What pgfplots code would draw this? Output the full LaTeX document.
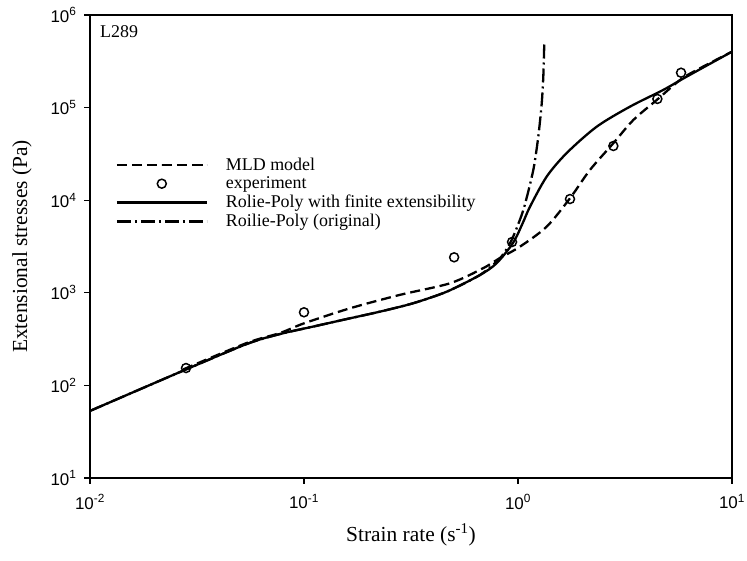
\documentclass[border=0pt]{standalone}
\usepackage{fontspec}
\setmainfont{Liberation Serif}
\setsansfont{Liberation Sans}
\usepackage{pgfplots}
\pgfplotsset{compat=1.18}
\usepackage{pgfplotstable}
\usetikzlibrary{calc}

% MLD model
\pgfplotstableread{
x y
0.0273 149
0.054 287
0.0773 368
0.1 468
0.164 680
0.281 950
0.481 1267
0.686 1840
0.824 2377
1.021 3148
1.361 5176
1.750 10500
2.168 21180
2.786 41100
3.459 73450
4.449 120800
5.715 198600
6.839 254700
10 401800
}\mld

% experiment
\pgfplotstableread{
x y
0.0281 154
0.1 616
0.503 2417
0.938 3537
1.75 10300
2.79 38500
4.48 124000
5.78 238000
}\expt

% Rolie-Poly with finite extensibility
\pgfplotstableread{
x y
0.01 53
0.02636 139.6
0.054 280
0.0773 359
0.110 431
0.1585 521
0.2265 626
0.3228 770
0.4645 1028
0.664 1556
0.794 2084
0.9476 3451
1.05 5600
1.138 8511
1.361 17950
1.690 32360
2.333 62230
3.334 102300
4.764 154900
6.138 215800
10 401800
}\rpfinite

% Rolie-Poly original
\pgfplotstableread{
x y
0.01 53
0.02636 139.6
0.054 280
0.0773 359
0.110 431
0.1585 521
0.2265 626
0.3228 770
0.4645 1028
0.664 1556
0.824 2360
0.934 3715
1.059 7830
1.179 21180
1.244 48500
1.291 111200
1.313 215800
1.327 494000
}\rporig

\begin{document}
\begin{tikzpicture}
  \begin{loglogaxis}[
      scale only axis,
      width=642bp, height=463bp,
      xmin=0.01, xmax=10, ymin=10, ymax=1e6,
      axis line style={line width=1.2bp},
      tick style={line width=1.2bp, black},
      tick align=outside, major tick length=6bp,
      xtick pos=bottom, ytick pos=left,
      xminorticks=false, yminorticks=false,
      xtick={0.01,0.1,1,10},
      xticklabels={10\textsuperscript{-2},10\textsuperscript{-1},10\textsuperscript{0},10\textsuperscript{1}},
      ytick={10,100,1000,10000,100000,1000000},
      yticklabels={10\textsuperscript{1},10\textsuperscript{2},10\textsuperscript{3},10\textsuperscript{4},10\textsuperscript{5},10\textsuperscript{6}},
      ticklabel style={font=\sffamily\fontsize{17}{17}\selectfont},
      xticklabel style={yshift=-7bp},
      yticklabel style={xshift=-4bp},
      xlabel={Strain rate (s\textsuperscript{-1})},
      ylabel={Extensional stresses (Pa)},
      label style={font=\fontsize{21.5}{21.5}\selectfont},
      xlabel style={at={(axis description cs:0.5,-0.123)}, anchor=center},
      ylabel style={at={(axis description cs:-0.106,0.5)}, anchor=center},
      legend style={draw=none, fill=none, at={(rel axis cs:0.035,0.70)},
        anchor=north west, font=\fontsize{18}{19}\selectfont,
        row sep=1bp, column sep=16bp},
      legend cell align=left,
      legend image code/.code={\draw[mark repeat=2,mark phase=2,#1]
        plot coordinates {(0bp,0bp) (45bp,0bp) (90bp,0bp)};},
    ]
    \coordinate (sw) at (rel axis cs:0,0);
    \addplot[black, line width=2.3bp, smooth, tension=0.5, dash pattern=on 10bp off 5bp] table {\mld};
    \addlegendentry{MLD model}
    \addplot[black, only marks, mark=o, mark size=4.5bp, mark options={line width=1.5bp, solid}] table {\expt};
    \addlegendentry{experiment}
    \addplot[black, line width=2.3bp, smooth, tension=0.5] table {\rpfinite};
    \addlegendentry{Rolie-Poly with finite extensibility}
    \addplot[black, line width=2.3bp, smooth, tension=0.4, dash pattern=on 14bp off 4bp on 2bp off 4bp] table {\rporig};
    \addlegendentry{Roilie-Poly (original)}
    \node[anchor=north west, inner sep=0pt, font=\fontsize{18}{18}\selectfont]
      at (rel axis cs:0.0156,0.978) {L289};
  \end{loglogaxis}
  \pgfresetboundingbox
  \path ($(sw)+(-90bp,-83bp)$) rectangle ($(sw)+(657bp,478bp)$);
\end{tikzpicture}
\end{document}
